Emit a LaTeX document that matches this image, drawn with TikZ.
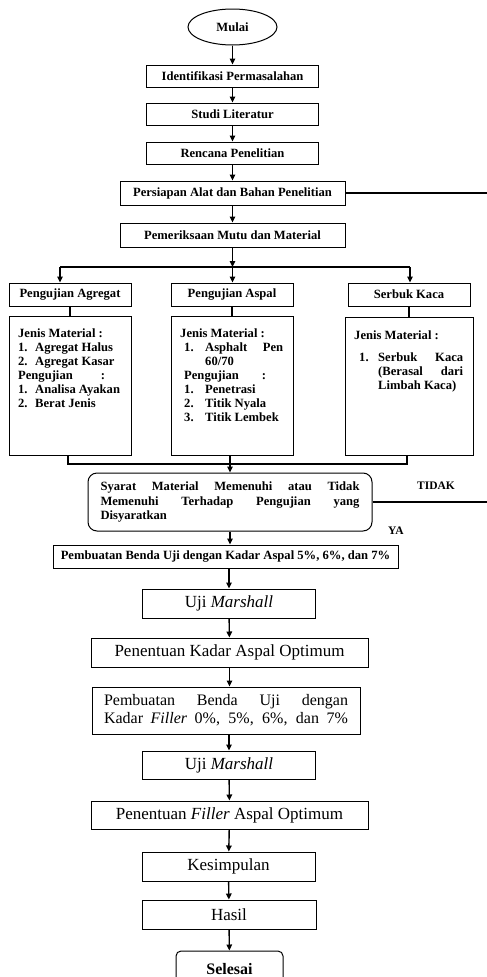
\documentclass[tikz,border=0pt]{standalone}
\usepackage{fontspec}
\setmainfont{Liberation Serif}
\usepackage{tikz}
\usetikzlibrary{shapes.geometric,positioning,arrows.meta}
\tikzstyle{arrow} = [line width=1.4pt,-{Triangle[length=6pt,width=5.5pt]}]
\tikzstyle{line} = [line width=1.4pt]
\tikzset{
 b/.style
  = {rectangle, draw, line width=1pt, text centered, inner sep=0pt,
     font=\fontsize{12.6}{14}\selectfont\bfseries},
 bb/.style
  = {rectangle, draw, line width=1pt, text centered, inner sep=0pt,
     font=\fontsize{17}{17.5}\selectfont},
 c/.style
  = {ellipse, draw, line width=1pt, inner sep=0pt,
     font=\fontsize{12.6}{14}\selectfont\bfseries},
 l/.style
  = {anchor=north west, inner sep=0pt, align=left,
     font=\fontsize{12.6}{14}\selectfont\bfseries},
 t/.style
  = {inner sep=0pt, font=\fontsize{11.5}{13}\selectfont\bfseries},
}

\begin{document}
\begin{tikzpicture}[x=1pt,y=-1pt]
\useasboundingbox (0,0) rectangle (487,977);

% Start
\node[c,minimum width=89pt,minimum height=36pt] (mulai) at (232.5,27) {Mulai};

% Preparation steps
\node[b,minimum width=172pt,minimum height=22pt] (ident) at (232.5,76) {Identifikasi Permasalahan};
\node[b,minimum width=172pt,minimum height=22pt] (studi) at (232.5,114) {Studi Literatur};
\node[b,minimum width=172pt,minimum height=22pt] (rencana) at (232.5,153) {Rencana Penelitian};
\node[b,minimum width=225pt,minimum height=24pt] (persiapan) at (232.5,193) {Persiapan Alat dan Bahan Penelitian};
\node[b,minimum width=225pt,minimum height=24pt] (periksa) at (232.5,235) {Pemeriksaan Mutu dan Material};

\draw[arrow] (mulai) -- (ident);
\draw[arrow] (ident) -- (studi);
\draw[arrow] (studi) -- (rencana);
\draw[arrow] (rencana) -- (persiapan);
\draw[arrow] (persiapan) -- (periksa);

% Line out to the right
\coordinate (edge) at (487,0);
\draw[line] (persiapan.east) -- (persiapan.east -| edge);

% Three tests
\node[b,minimum width=122pt,minimum height=23pt] (agregat) at (70,294.5) {Pengujian Agregat};
\node[b,minimum width=122pt,minimum height=23pt] (aspal) at (232,294.5) {Pengujian Aspal};
\node[b,minimum width=122pt,minimum height=23pt] (kaca) at (409,294.5) {Serbuk Kaca};

\coordinate (brL) at (60,267);
\coordinate (brR) at (410,267);
\coordinate (brM) at (periksa.south |- brL);
\draw[arrow] (periksa.south) -- (brM);
\draw[line] (brL) -- (brR);
\draw[arrow] (brL) -- (brL |- agregat.north);
\draw[arrow] (brM) -- (brM |- aspal.north);
\draw[arrow] (brR) -- (brR |- kaca.north);

% Material boxes
\node[b,minimum width=122pt,minimum height=139pt] (jenisA) at (70,385.5) {};
\node[b,minimum width=122pt,minimum height=139pt] (jenisB) at (232,385.5) {};
\node[b,minimum width=128pt,minimum height=138pt] (jenisC) at (409,386) {};

\draw[line] (agregat.south) -- (jenisA.north);
\draw[line] (aspal.south) -- (jenisB.north);
\draw[line] (kaca.south) -- (jenisC.north);

\node[l] (txtA) at (18,329) {Jenis Material :\\
\makebox[17pt][l]{1.}Agregat Halus\\
\makebox[17pt][l]{2.}Agregat Kasar\\
\makebox[87pt]{Pengujian\hfill:}\\
\makebox[17pt][l]{1.}Analisa Ayakan\\
\makebox[17pt][l]{2.}Berat Jenis};

\node[l] (txtB) at (180,329) {Jenis Material :\\
\hspace*{4pt}\makebox[21pt][l]{1.}\makebox[78pt]{Asphalt\hfill Pen}\\
\hspace*{25pt}60/70\\
\hspace*{4pt}\makebox[82pt]{Pengujian\hfill:}\\
\hspace*{4pt}\makebox[21pt][l]{1.}Penetrasi\\
\hspace*{4pt}\makebox[21pt][l]{2.}Titik Nyala\\
\hspace*{4pt}\makebox[21pt][l]{3.}Titik Lembek};

\node[l] (txtC) at (354,331) {Jenis Material :\\[8pt]
\hspace*{5pt}\makebox[19pt][l]{1.}\makebox[85pt]{Serbuk\hfill Kaca}\\
\hspace*{24pt}\makebox[85pt]{(Berasal\hfill dari}\\
\hspace*{24pt}Limbah Kaca)};

% Decision
\node[b,font=\fontsize{12.6}{14.5}\selectfont\bfseries,rounded corners=9pt,
      minimum width=284pt,minimum height=58pt,
      text width=259pt,align=justify] (syarat) at (230,502)
  {Syarat Material Memenuhi atau Tidak\linebreak Memenuhi Terhadap Pengujian yang\linebreak Disyaratkan};

\coordinate (jnL) at (68,464);
\coordinate (jnR) at (407,464);
\draw[line] (jenisA.south -| jnL) -- (jnL) -- (jnR) -- (jenisC.south -| jnR);
\draw[arrow] (jenisB.south -| syarat.north) -- (syarat.north);

\draw[line] (syarat.east) -- (syarat.east -| edge);
\node[t] (tidak) at (436,486) {TIDAK};
\node[t] (ya) at (396,531) {YA};

% Mixing and testing
\node[b,minimum width=345pt,minimum height=23pt] (benda) at (225.5,556.5) {Pembuatan Benda Uji dengan Kadar Aspal 5\%, 6\%, dan 7\%};
\node[bb,minimum width=173pt,minimum height=29pt] (marshallA) at (229,603.5) {Uji \textit{Marshall}};
\node[bb,minimum width=277pt,minimum height=29pt] (kadar) at (229.5,652.5) {Penentuan Kadar Aspal Optimum};
\node[bb,font=\fontsize{16}{18}\selectfont,minimum width=268pt,minimum height=47pt,align=left] (filler) at (226,710.5)
  {\makebox[244pt][s]{Pembuatan Benda Uji dengan}\\
   \makebox[244pt][s]{Kadar \textit{Filler} 0\%, 5\%, 6\%, dan 7\%}};
\node[bb,minimum width=173pt,minimum height=28pt] (marshallB) at (229,765) {Uji \textit{Marshall}};
\node[bb,minimum width=277pt,minimum height=28pt] (optfiller) at (229.5,815) {Penentuan \textit{Filler} Aspal Optimum};
\node[bb,minimum width=173pt,minimum height=29pt] (kesimpulan) at (228.5,866.5) {Kesimpulan};
\node[bb,minimum width=174pt,minimum height=29pt] (hasil) at (229,914.5) {Hasil};

% End
\node[bb,font=\fontsize{16}{17}\selectfont\bfseries,rounded corners=5pt,
      minimum width=107pt,minimum height=36pt] (selesai) at (229.5,969) {Selesai};

\draw[arrow] (syarat.south) -- (syarat.south |- benda.north);
\draw[arrow] (benda.south -| marshallA.north) -- (marshallA.north);
\draw[arrow] (marshallA) -- (kadar);
\draw[arrow] (kadar) -- (filler.north -| kadar.south);
\draw[arrow] (filler.south -| marshallB.north) -- (marshallB.north);
\draw[arrow] (marshallB) -- (optfiller);
\draw[arrow] (optfiller) -- (kesimpulan);
\draw[arrow] (kesimpulan) -- (hasil);
\draw[arrow] (hasil) -- (selesai);

\end{tikzpicture}
\end{document}
